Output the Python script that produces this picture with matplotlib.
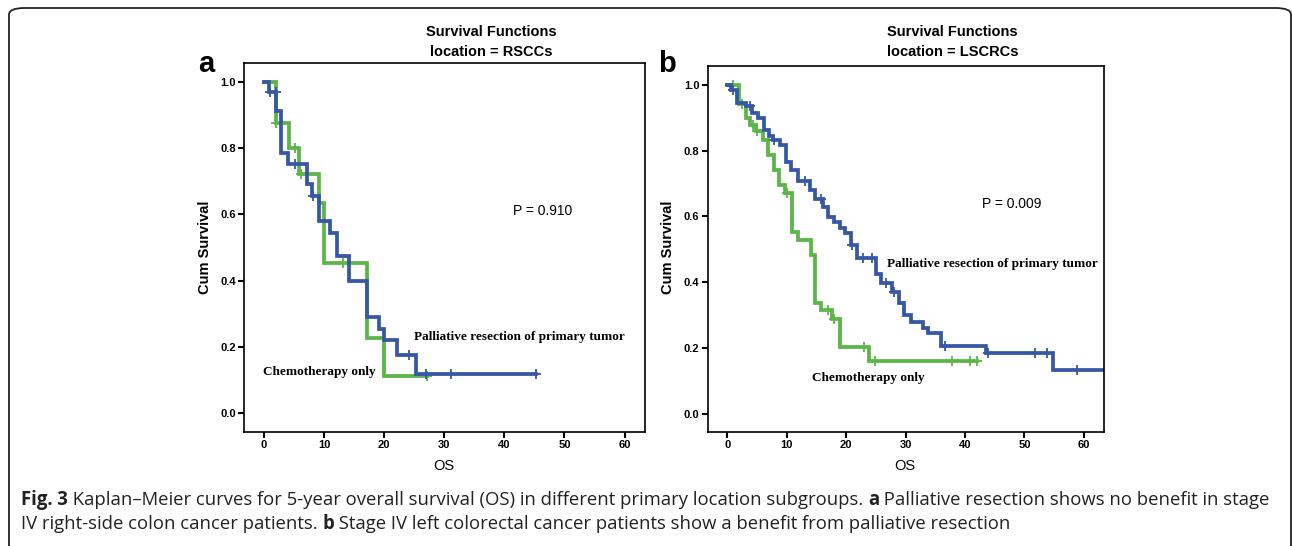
import matplotlib
matplotlib.use("Agg")
import matplotlib.pyplot as plt
import numpy as np
from matplotlib.patches import FancyBboxPatch

# panel a: RSCCs
a_pal_t = [0, 0.8, 2.1, 2.9, 4.1, 7.1, 8.0, 9.1, 11.0, 12.1, 14.1, 17.1, 19.1, 20.0, 22.1, 25.3, 45.3]
a_pal_s = [1.0, 0.97, 0.91, 0.785, 0.752, 0.69, 0.655, 0.58, 0.545, 0.475, 0.40, 0.29, 0.255, 0.22, 0.175, 0.118, 0.118]
a_pal_cens = [1.0, 2.0, 5.2, 8.2, 24.1, 27.0, 31.1, 45.3]
a_chemo_t = [0, 2.0, 4.2, 5.9, 9.2, 10.0, 17.1, 20.0, 27.1]
a_chemo_s = [1.0, 0.875, 0.80, 0.722, 0.633, 0.452, 0.226, 0.113, 0.113]
a_chemo_cens = [2.1, 5.1, 6.1, 13.1, 27.1]

# panel b: LSCRCs
b_pal_t = [0, 0.7, 1.6, 3.2, 4.1, 5.2, 6.1, 7.0, 7.7, 8.9, 9.9, 10.8, 11.9, 13.9, 14.8, 16.1, 17.0,
           18.0, 18.9, 19.8, 20.8, 21.9, 25.0, 25.8, 27.8, 28.9, 29.7, 30.9, 32.9, 33.8, 35.9, 43.5, 54.9, 64.0]
b_pal_s = [1.0, 0.985, 0.946, 0.934, 0.914, 0.898, 0.863, 0.843, 0.832, 0.817, 0.766, 0.741, 0.706, 0.680,
           0.652, 0.629, 0.599, 0.584, 0.563, 0.548, 0.513, 0.472, 0.426, 0.396, 0.371, 0.335, 0.299, 0.279,
           0.259, 0.244, 0.205, 0.183, 0.132, 0.132]
b_pal_cens = [0.9, 3.8, 7.9, 13.0, 15.8, 21.0, 22.8, 24.4, 26.7, 28.1, 36.7, 43.9, 51.8, 53.8, 58.8]
b_chemo_t = [0, 2.0, 3.2, 3.9, 4.9, 6.0, 6.8, 7.8, 8.7, 9.7, 10.9, 11.9, 14.1, 14.8, 15.8, 17.7, 19.0, 23.9, 42.0]
b_chemo_s = [1.0, 0.94, 0.898, 0.878, 0.858, 0.832, 0.787, 0.741, 0.695, 0.672, 0.553, 0.528, 0.482, 0.335,
             0.315, 0.289, 0.203, 0.16, 0.16]
b_chemo_cens = [1.0, 2.4, 4.3, 5.0, 10.0, 16.9, 17.9, 23.0, 24.9, 37.8, 40.9, 42.0]

xticks = [0, 10, 20, 30, 40, 50, 60]
yticks = [0.0, 0.2, 0.4, 0.6, 0.8, 1.0]
p_a = "P = 0.910"
p_b = "P = 0.009"

BLUE = "#3657a6"
GREEN = "#5bb548"
W, H = 1292, 546

fig = plt.figure(figsize=(W / 100, H / 100), dpi=100)


def fx(px):
    return px / W


def fy(py):
    return 1 - py / H


def surv_at(t, s, c):
    idx = np.searchsorted(np.array(t), np.array(c), side="right") - 1
    return np.array(s)[idx]


def km_panel(rect, pal, chemo, ptxt, ppos, palpos, chemopos):
    ax = fig.add_axes(rect)
    for (t, s, cens), col in [(chemo, GREEN), (pal, BLUE)]:
        ax.step(t, s, where="post", color=col, lw=2.7, solid_joinstyle="miter")
        ax.plot(cens, surv_at(t, s, cens), ls="none", marker="+", ms=7, mew=1.3, color=col)
    ax.set_xlim(-3.3, 63.4)
    ax.set_ylim(-0.055, 1.057)
    ax.set_xticks(xticks)
    ax.set_yticks(yticks)
    ax.set_yticklabels(["%.1f" % v for v in yticks])
    ax.tick_params(direction="out", length=4, width=1.5, labelsize=8, pad=2)
    for lab in ax.get_xticklabels() + ax.get_yticklabels():
        lab.set_fontweight("bold")
        lab.set_family("Liberation Sans")
    for sp in ax.spines.values():
        sp.set_linewidth(1.2)
    ax.text(ppos[0], ppos[1], ptxt, fontsize=10, family="Liberation Sans", va="center")
    ax.text(palpos[0], palpos[1], "Palliative resection of primary tumor", fontsize=9.5,
            family="Liberation Serif", fontweight="bold", va="center")
    ax.text(chemopos[0], chemopos[1], "Chemotherapy only", fontsize=9.5,
            family="Liberation Serif", fontweight="bold", va="center")
    return ax


ax_a = km_panel([fx(244), fy(431.7), fx(401), 369 / H],
                (a_pal_t, a_pal_s, a_pal_cens), (a_chemo_t, a_chemo_s, a_chemo_cens),
                p_a, (41.5, 0.61), (25.0, 0.23), (-0.2, 0.125))
ax_b = km_panel([fx(707.7), fy(431.7), fx(396.3), 365.7 / H],
                (b_pal_t, b_pal_s, b_pal_cens), (b_chemo_t, b_chemo_s, b_chemo_cens),
                p_b, (42.9, 0.637), (26.8, 0.455), (14.3, 0.107))

# titles, panel letters, axis labels
for cx, loc in [(491, "RSCCs"), (952.5, "LSCRCs")]:
    fig.text(fx(cx), fy(32), "Survival Functions", ha="center", va="center",
             fontsize=10.5, fontweight="bold", family="Liberation Sans")
    fig.text(fx(cx), fy(52), "location = " + loc, ha="center", va="center",
             fontsize=10.5, fontweight="bold", family="Liberation Sans")
for cx, lt in [(206, "a"), (667, "b")]:
    fig.text(fx(cx), fy(72), lt, ha="center", va="baseline", fontsize=21,
             fontweight="bold", family="Liberation Sans")
for cx in [205, 668]:
    fig.text(fx(cx), fy(247), "Cum Survival", rotation=90, ha="center", va="center",
             fontsize=10.5, fontweight="bold", family="Liberation Sans")
for cx in [444, 905]:
    fig.text(fx(cx), fy(466), "OS", ha="center", va="center", fontsize=10.5,
             family="Liberation Sans")

# border box
box = FancyBboxPatch((fx(9), fy(560)), fx(1282), (560 - 8) / H,
                     boxstyle="round,pad=0,rounding_size=0.012", transform=fig.transFigure,
                     fill=False, ec="#222222", lw=1.3, clip_on=False)
fig.add_artist(box)

# caption with mixed bold runs
cap1 = [("Fig. 3", "bold"),
        (" Kaplan\u2013Meier curves for 5-year overall survival (OS) in different primary location subgroups. ", "normal"),
        ("a", "bold"), (" Palliative resection shows no benefit in stage", "normal")]
cap2 = [("IV right-side colon cancer patients. ", "normal"), ("b", "bold"),
        (" Stage IV left colorectal cancer patients show a benefit from palliative resection", "normal")]

fig.canvas.draw()
r = fig.canvas.get_renderer()
for line, y in [(cap1, 500), (cap2, 524)]:
    x = 21
    for s, w in line:
        t = fig.text(fx(x), fy(y), s, fontsize=13.35, fontweight=w, family="Open Sans",
                     color="#222222", va="center", ha="left")
        x = t.get_window_extent(r).x1

fig.savefig("out.png", dpi=100)
